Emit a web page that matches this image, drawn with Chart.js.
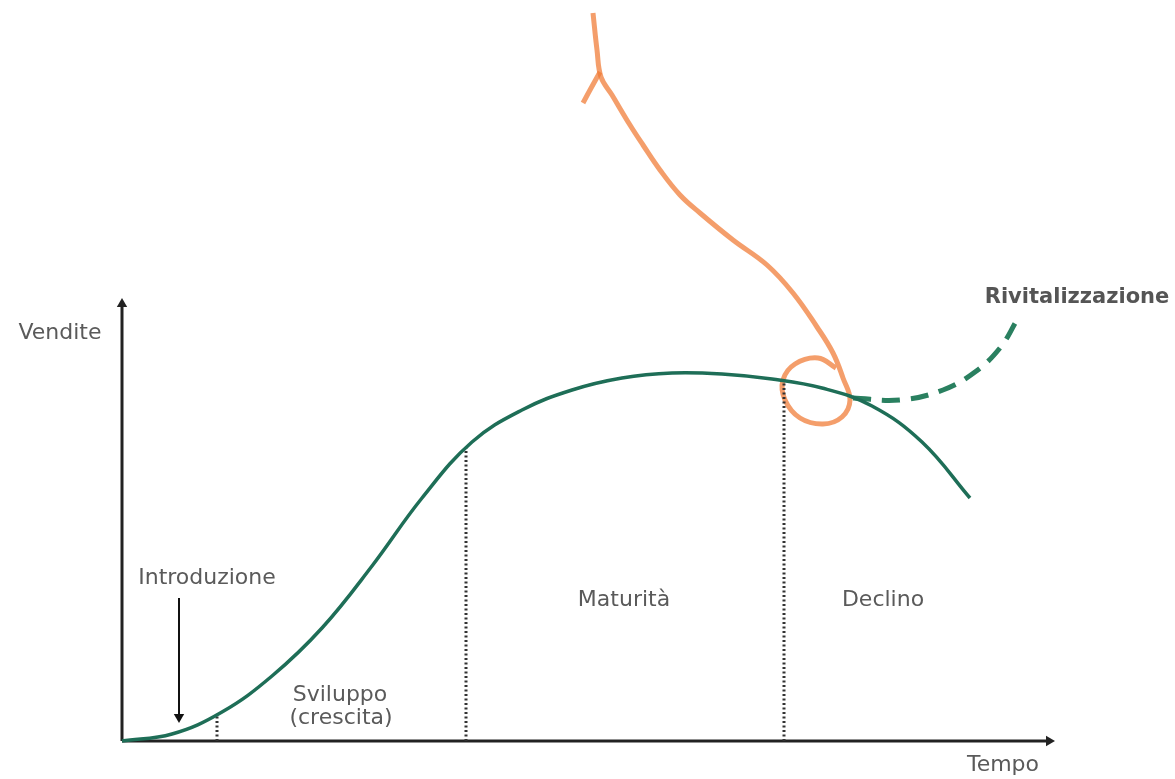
<!DOCTYPE html>
<html>
<head>
<meta charset="utf-8">
<script src="https://cdn.jsdelivr.net/npm/chart.js@4"></script>
<style>
  html, body { margin: 0; padding: 0; background: #fff; }
  #wrap { width: 1175px; height: 779px; position: relative; }
</style>
</head>
<body>
<div id="wrap"><canvas id="myChart"></canvas></div>
<script>
// Product life cycle (time / sales, origin at the axes corner)
const curveTime  = [0, 50, 100, 150, 200, 250, 300, 350, 400, 450, 500, 550, 600, 650, 700, 750, 800, 848];
const curveSales = [0, 7, 29, 65, 113, 175, 243, 299, 331, 351, 363, 368, 367, 362, 353, 335, 299, 243];

// dashed "Rivitalizzazione" branch
const reviveTime  = [731, 778, 821, 853, 878, 895];
const reviveSales = [343, 341, 351, 369, 393, 421];

// phase boundaries (dotted verticals)
const phaseTime  = [95, 344, 662];
const phaseSales = [27, 293, 360];

// axis extents
const timeMax = 933;
const salesMax = 443;

// "Introduzione" pointer arrow
const introArrowTime  = [57, 57];
const introArrowSales = [143, 24];

// hand drawn orange mark
const markTime  = [471, 475, 479, 490, 508, 521, 538, 558, 578, 611, 645, 671, 695, 711, 721, 728, 720, 701, 678, 663, 661, 673, 696, 714];
const markSales = [728, 691, 664, 646, 616, 596, 571, 546, 528, 501, 476, 448, 414, 388, 363, 341, 324, 317, 323, 341, 361, 377, 383, 373];
const markTailTime  = [478, 468, 461];
const markTailSales = [669, 651, 638];

// text labels and their anchors
const labelTexts = ['Vendite', 'Tempo', 'Introduzione', 'Sviluppo', '(crescita)', 'Maturità', 'Declino', 'Rivitalizzazione'];
const labelTime  = [-62, 881, 85, 218, 219, 502, 761, 955];
const labelSales = [408, -24, 163, 46, 23, 141, 141, 443];
const labelBold  = [false, false, false, false, false, false, false, true];

function pts(xs, ys) {
    return xs.map((x, i) => ({ x: x, y: ys[i] }));
}

const green = '#1e6e57';
const axisColor = '#222';

const datasets = [];

// main curve
datasets.push({
    data: pts(curveTime, curveSales),
    borderColor: green,
    borderWidth: 3.5,
    tension: 0.4,
    pointRadius: 0
});
// revitalisation dashed line
datasets.push({
    data: pts(reviveTime, reviveSales),
    borderColor: '#2a8060',
    borderWidth: 5,
    borderDash: [18, 11],
    tension: 0.4,
    pointRadius: 0
});
// dotted phase lines
phaseTime.forEach((t, i) => {
    datasets.push({
        data: [{ x: t, y: 0 }, { x: t, y: phaseSales[i] }],
        borderColor: '#333',
        borderWidth: 3,
        borderDash: [2, 2.5],
        pointRadius: 0
    });
});
// axes with arrow heads
datasets.push({
    data: [{ x: 0, y: 0 }, { x: 0, y: salesMax - 6 }],
    borderColor: axisColor,
    borderWidth: 3,
    pointStyle: 'triangle',
    pointRadius: [0, 6],
    pointRotation: 0,
    backgroundColor: axisColor,
    pointBorderWidth: 0
});
datasets.push({
    data: [{ x: 0, y: 0 }, { x: timeMax - 6, y: 0 }],
    borderColor: axisColor,
    borderWidth: 3,
    pointStyle: 'triangle',
    pointRadius: [0, 6],
    pointRotation: 90,
    backgroundColor: axisColor,
    pointBorderWidth: 0
});
// Introduzione arrow
datasets.push({
    data: pts(introArrowTime, introArrowSales),
    borderColor: '#111',
    borderWidth: 2,
    pointStyle: 'triangle',
    pointRadius: [0, 6],
    pointRotation: 180,
    backgroundColor: '#111',
    pointBorderWidth: 0
});
// orange scribble
datasets.push({
    data: pts(markTime, markSales),
    borderColor: 'rgba(240,120,50,0.72)',
    borderWidth: 5,
    tension: 0.4,
    pointRadius: 0
});
datasets.push({
    data: pts(markTailTime, markTailSales),
    borderColor: 'rgba(240,120,50,0.72)',
    borderWidth: 5,
    tension: 0.4,
    pointRadius: 0
});

// draws the text labels at their data anchors
const labelPlugin = {
    id: 'labels',
    afterDatasetsDraw(chart) {
        const ctx = chart.ctx;
        const xs = chart.scales.x, ys = chart.scales.y;
        ctx.save();
        ctx.textAlign = 'center';
        ctx.textBaseline = 'middle';
        labelTexts.forEach((txt, i) => {
            ctx.font = (labelBold[i] ? 'bold 21px' : '22px') + ' "DejaVu Sans", sans-serif';
            ctx.fillStyle = labelBold[i] ? '#555' : '#5a5a5a';
            ctx.fillText(txt, xs.getPixelForValue(labelTime[i]), ys.getPixelForValue(labelSales[i]));
        });
        ctx.restore();
    }
};

const ctx = document.getElementById('myChart').getContext('2d');
const myChart = new Chart(ctx, {
    type: 'scatter',
    data: { datasets: datasets },
    options: {
        responsive: true,
        maintainAspectRatio: false,
        animation: false,
        showLine: true,
        layout: { padding: 0, autoPadding: false },
        plugins: {
            legend: { display: false },
            tooltip: { enabled: false }
        },
        scales: {
            x: { type: 'linear', min: -122, max: 1053, display: false },
            y: { type: 'linear', min: -38, max: 741, display: false }
        }
    },
    plugins: [labelPlugin]
});
</script>
</body>
</html>
